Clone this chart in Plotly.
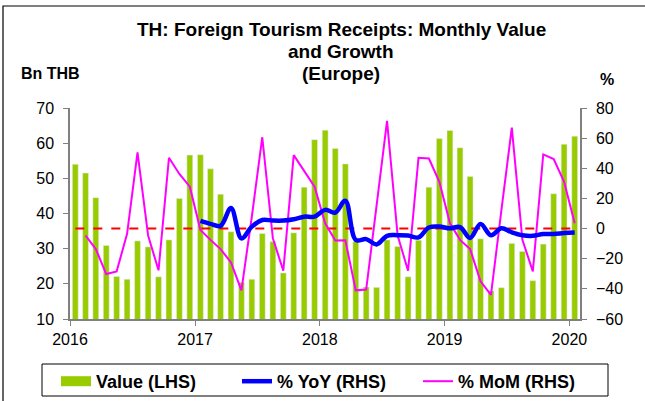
import pandas as pd
import plotly.graph_objects as go

# monthly categories Jan 2016 .. Jan 2020
months = pd.date_range("2016-01-01", periods=49, freq="MS")
year_ticks = ["2016-01-01", "2017-01-01", "2018-01-01", "2019-01-01", "2020-01-01"]
year_labels = ["2016", "2017", "2018", "2019", "2020"]

# Bn THB
value_bn = [
    54.0, 51.5, 44.5, 30.9, 22.1, 21.3, 32.2, 30.5, 22.0, 32.5, 44.3, 56.6,
    56.7, 52.7, 45.5, 34.8, 20.4, 21.3, 34.3, 32.0, 23.1, 34.5, 47.5, 61.0,
    63.7, 58.5, 54.1, 32.0, 19.1, 19.0, 32.5, 30.6, 22.0, 32.4, 47.5, 61.3,
    63.6, 58.7, 50.5, 32.8, 18.0, 18.9, 31.5, 29.2, 20.9, 31.3, 45.6, 59.7,
    62.0,
]
# % YoY
yoy_pct = [
    None, None, None, None, None, None, None, None, None, None, None, None,
    5.1, 3.1, 1.8, 13.7, -6.5, 1.3, 5.7, 5.3, 5.3, 6.2, 7.9, 7.9,
    12.4, 10.6, 18.5, -7.5, -7.0, -10.5, -4.8, -4.4, -4.6, -5.9, 0.7, 1.3,
    0.2, 1.0, -6.2, 3.0, -4.4, 0.2, -2.5, -4.4, -4.8, -3.6, -3.6, -3.0,
    -2.6,
]
# % MoM
mom_pct = [
    None, -4.6, -13.6, -30.2, -28.4, -3.5, 50.5, -4.6, -27.7, 47.0, 36.2, 27.8,
    -0.9, -7.5, -13.6, -22.5, -41.0, 8.0, 60.6, -6.4, -28.0, 48.7, 38.4, 27.8,
    3.5, -7.9, -7.7, -41.0, -40.5, 14.0, 71.4, -4.6, -28.0, 47.0, 46.5, 31.0,
    3.5, -7.5, -13.6, -35.0, -44.0, 12.0, 67.0, -7.5, -28.4, 49.2, 46.1, 31.0,
    3.5,
]
zero_ref = [0] * len(months)

title_lines = ["TH: Foreign Tourism Receipts: Monthly Value", "and Growth", "(Europe)"]

W, H = 645, 401
L, R, T, B = 70, 65, 108, 82
pw, ph = W - L - R, H - T - B


def paper_x(px):
    return (px - L) / pw


def paper_y(py):
    return (H - B - py) / ph


font_family = "Arial, Liberation Sans, sans-serif"
axis_grey = "#808080"
period = dict(xperiod="M1", xperiodalignment="middle")

fig = go.Figure()
fig.add_trace(go.Bar(x=months, y=value_bn, marker_color="#99CC00",
                     showlegend=False, name="Value (LHS)", **period))
# wide swatch for the bar legend entry
fig.add_trace(go.Scatter(x=[None], y=[None], mode="lines", name="<b>Value (LHS)</b>",
                         line=dict(color="#99CC00", width=11), legendrank=1))
fig.add_trace(go.Scatter(x=months, y=zero_ref, yaxis="y2", mode="lines", showlegend=False,
                         line=dict(color="#FF0000", width=2, dash="dash"), **period))
fig.add_trace(go.Scatter(x=months, y=mom_pct, yaxis="y2", mode="lines",
                         name="<b>% MoM (RHS)</b>", legendrank=3,
                         line=dict(color="#FF00FF", width=2), **period))
fig.add_trace(go.Scatter(x=months, y=yoy_pct, yaxis="y2", mode="lines",
                         name="<b>% YoY (RHS)</b>", legendrank=2,
                         line=dict(color="#0000FF", width=4.5, shape="spline"), **period))

axis_common = dict(showline=True, linecolor=axis_grey, linewidth=1.5, ticks="outside",
                   ticklen=5, tickcolor=axis_grey, showgrid=False, zeroline=False,
                   tickfont=dict(family=font_family, size=16, color="black"))

title_y = [29, 51, 73]
annotations = [
    dict(text=f"<b>{line}</b>", x=paper_x(341), y=paper_y(py), xref="paper", yref="paper",
         showarrow=False, xanchor="center", yanchor="middle",
         font=dict(family=font_family, size=19, color="black"))
    for line, py in zip(title_lines, title_y)
]
annotations += [
    dict(text="<b>Bn THB</b>", x=paper_x(50), y=paper_y(73), xref="paper", yref="paper",
         showarrow=False, xanchor="center", yanchor="middle",
         font=dict(family=font_family, size=16, color="black")),
    dict(text="<b>%</b>", x=paper_x(607), y=paper_y(79), xref="paper", yref="paper",
         showarrow=False, xanchor="center", yanchor="middle",
         font=dict(family=font_family, size=16, color="black")),
]

fig.update_layout(
    width=W, height=H,
    margin=dict(l=L, r=R, t=T, b=B, autoexpand=False),
    paper_bgcolor="white", plot_bgcolor="white",
    bargap=0.42,
    xaxis=dict(range=["2016-01-01", "2020-02-01"], tickvals=year_ticks, ticktext=year_labels,
               **axis_common),
    yaxis=dict(range=[10, 70], dtick=10, ticklabelstandoff=6, **axis_common),
    yaxis2=dict(range=[-60, 80], dtick=20, overlaying="y", side="right",
                ticklabelstandoff=6, **axis_common),
    # x left of the plot area so the horizontal legend may be wider than the plot
    legend=dict(orientation="h", xanchor="left", yanchor="top",
                x=paper_x(56), y=paper_y(363),
                borderwidth=0, bgcolor="rgba(0,0,0,0)", entrywidth=136,
                font=dict(family=font_family, size=18, color="black")),
    annotations=annotations,
    shapes=[
        # outer chart frame
        dict(type="rect", xref="paper", yref="paper", x0=paper_x(3), x1=paper_x(700),
             y0=paper_y(450), y1=paper_y(6), line=dict(color="black", width=1.2)),
        # legend box
        dict(type="rect", xref="paper", yref="paper", x0=paper_x(42), x1=paper_x(608),
             y0=paper_y(396), y1=paper_y(364), line=dict(color="black", width=1)),
    ],
)

fig.write_html("out.html", config={"displayModeBar": False},
               post_script="document.body.style.margin = '0';")
